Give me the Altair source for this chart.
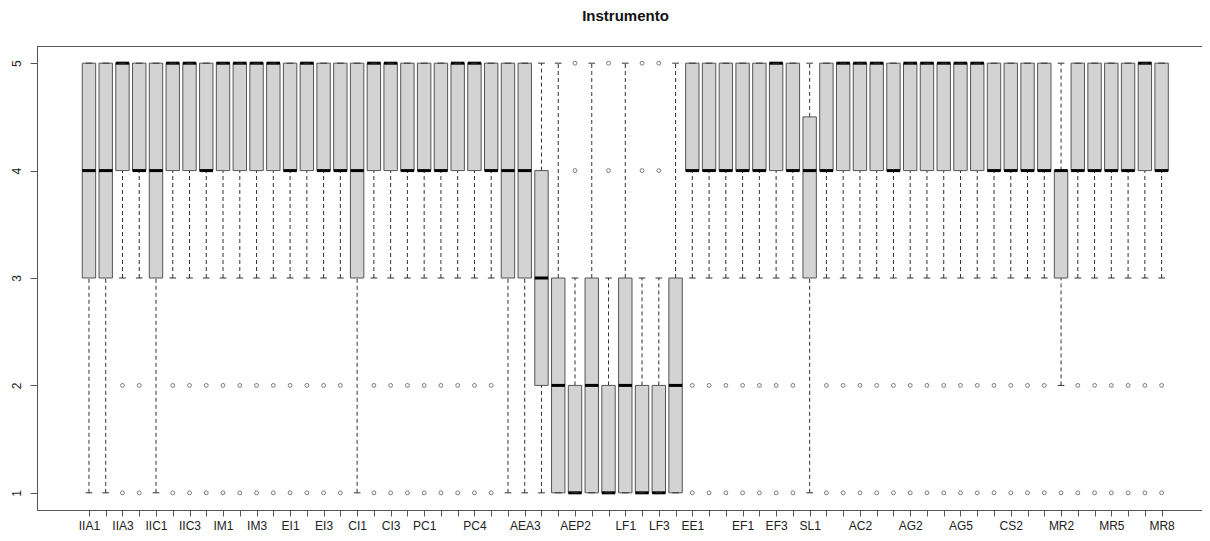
import json
import altair as alt
import pandas as pd

names = ["IIA1", "IIA2", "IIA3", "IIA4", "IIC1", "IIC2", "IIC3", "IIC4",
         "IM1", "IM2", "IM3", "IM4", "EI1", "EI2", "EI3", "EI4",
         "CI1", "CI2", "CI3", "CI4", "PC1", "PC2", "PC3", "PC4",
         "AEA1", "AEA2", "AEA3", "AEA4", "AEP1", "AEP2", "AEP3", "AEP4",
         "LF1", "LF2", "LF3", "LF4", "EE1", "EE2", "EE3",
         "EF1", "EF2", "EF3", "EF4", "SL1", "SL2", "AC1", "AC2", "AC3",
         "AG1", "AG2", "AG3", "AG4", "AG5", "AG6", "CS1", "CS2", "CS3",
         "MR1", "MR2", "MR3", "MR4", "MR5", "MR6", "MR7", "MR8"]

shown_labels = ["IIA1", "IIA3", "IIC1", "IIC3", "IM1", "IM3", "EI1", "EI3",
                "CI1", "CI3", "PC1", "PC4", "AEA3", "AEP2", "LF1", "LF3",
                "EE1", "EF1", "EF3", "SL1", "AC2", "AG2", "AG5", "CS2",
                "MR2", "MR5", "MR8"]

whisker_lo = [1, 1, 3, 3, 1, 3, 3, 3, 3, 3, 3, 3, 3, 3, 3, 3,
              1, 3, 3, 3, 3, 3, 3, 3, 3, 1, 1, 1, 1, 1, 1, 1, 1, 1, 1, 1,
              3, 3, 3, 3, 3, 3, 3, 1, 3, 3, 3, 3, 3, 3, 3, 3, 3, 3, 3, 3, 3, 3,
              2, 3, 3, 3, 3, 3, 3]
q1 = [3, 3, 4, 4, 3, 4, 4, 4, 4, 4, 4, 4, 4, 4, 4, 4,
      3, 4, 4, 4, 4, 4, 4, 4, 4, 3, 3, 2, 1, 1, 1, 1, 1, 1, 1, 1,
      4, 4, 4, 4, 4, 4, 4, 3, 4, 4, 4, 4, 4, 4, 4, 4, 4, 4, 4, 4, 4, 4,
      3, 4, 4, 4, 4, 4, 4]
median = [4, 4, 5, 4, 4, 5, 5, 4, 5, 5, 5, 5, 4, 5, 4, 4,
          4, 5, 5, 4, 4, 4, 5, 5, 4, 4, 4, 3, 2, 1, 2, 1, 2, 1, 1, 2,
          4, 4, 4, 4, 4, 5, 4, 4, 4, 5, 5, 5, 4, 5, 5, 5, 5, 5, 4, 4, 4, 4,
          4, 4, 4, 4, 4, 5, 4]
q3 = [5, 5, 5, 5, 5, 5, 5, 5, 5, 5, 5, 5, 5, 5, 5, 5,
      5, 5, 5, 5, 5, 5, 5, 5, 5, 5, 5, 4, 3, 2, 3, 2, 3, 2, 2, 3,
      5, 5, 5, 5, 5, 5, 5, 4.5, 5, 5, 5, 5, 5, 5, 5, 5, 5, 5, 5, 5, 5, 5,
      4, 5, 5, 5, 5, 5, 5]
whisker_hi = [5, 5, 5, 5, 5, 5, 5, 5, 5, 5, 5, 5, 5, 5, 5, 5,
              5, 5, 5, 5, 5, 5, 5, 5, 5, 5, 5, 5, 5, 3, 5, 3, 5, 3, 3, 5,
              5, 5, 5, 5, 5, 5, 5, 5, 5, 5, 5, 5, 5, 5, 5, 5, 5, 5, 5, 5, 5, 5,
              5, 5, 5, 5, 5, 5, 5]
outliers = [[], [], [2, 1], [2, 1], [], [2, 1], [2, 1], [2, 1],
            [2, 1], [2, 1], [2, 1], [2, 1], [2, 1], [2, 1], [2, 1], [2, 1],
            [], [2, 1], [2, 1], [2, 1], [2, 1], [2, 1], [2, 1], [2, 1],
            [2, 1], [], [], [], [], [4, 5], [], [4, 5],
            [], [4, 5], [4, 5], [], [2, 1], [2, 1], [2, 1],
            [2, 1], [2, 1], [2, 1], [2, 1], [], [2, 1], [2, 1], [2, 1], [2, 1],
            [2, 1], [2, 1], [2, 1], [2, 1], [2, 1], [2, 1], [2, 1], [2, 1], [2, 1],
            [2, 1], [1], [2, 1], [2, 1], [2, 1], [2, 1], [2, 1], [2, 1]]

df = pd.DataFrame({
    "idx": list(range(1, len(names) + 1)),
    "name": names,
    "lo": whisker_lo, "q1": q1, "med": median, "q3": q3, "hi": whisker_hi,
})
odf = pd.DataFrame([{"idx": i + 1, "value": v}
                    for i, vals in enumerate(outliers) for v in vals])

W, H = 1165, 464
FONT = "Liberation Sans"
LINE = "#555555"

label_arr = json.dumps([n if n in shown_labels else "" for n in names])

xscale = alt.Scale(domain=[-2.1, 67.41], nice=False, zero=False)
yscale = alt.Scale(domain=[0.84, 5.16], nice=False, zero=False)

xaxis = alt.Axis(values=list(range(1, len(names) + 1)),
                 labelExpr=f"{label_arr}[datum.value - 1]",
                 title=None, grid=False, tickSize=6, tickColor=LINE,
                 domainColor=LINE, labelFont=FONT, labelFontSize=12,
                 labelColor="#222222", labelPadding=4, labelOverlap=False,
                 labelFlush=False, labelAngle=0)
yaxis = alt.Axis(values=[1, 2, 3, 4, 5], title=None, grid=False, tickSize=7,
                 tickColor=LINE, domainColor=LINE, labelFont=FONT,
                 labelFontSize=12, labelColor="#222222", labelAngle=270,
                 labelAlign="center", labelBaseline="alphabetic",
                 labelPadding=10)

base = alt.Chart(df).transform_calculate(
    b0="datum.idx - 0.4", b1="datum.idx + 0.4",
    s0="datum.idx - 0.2", s1="datum.idx + 0.2")

whisk_up = base.mark_rule(color="#333333", strokeDash=[4, 3], strokeWidth=1).encode(
    x=alt.X("idx:Q", scale=xscale, axis=xaxis),
    y=alt.Y("q3:Q", scale=yscale, axis=yaxis), y2="hi:Q")
whisk_dn = base.mark_rule(color="#333333", strokeDash=[4, 3], strokeWidth=1).encode(
    x=alt.X("idx:Q", scale=xscale, axis=xaxis),
    y=alt.Y("lo:Q", scale=yscale, axis=yaxis), y2="q1:Q")
staple_hi = base.mark_rule(color="#333333", strokeWidth=1).encode(
    x=alt.X("s0:Q", scale=xscale, axis=xaxis), x2="s1:Q",
    y=alt.Y("hi:Q", scale=yscale, axis=yaxis))
staple_lo = base.mark_rule(color="#333333", strokeWidth=1).encode(
    x=alt.X("s0:Q", scale=xscale, axis=xaxis), x2="s1:Q",
    y=alt.Y("lo:Q", scale=yscale, axis=yaxis))
boxes = base.mark_rect(fill="#D3D3D3", stroke=LINE, strokeWidth=1).encode(
    x=alt.X("b0:Q", scale=xscale, axis=xaxis), x2="b1:Q",
    y=alt.Y("q1:Q", scale=yscale, axis=yaxis), y2="q3:Q")
medians = base.mark_rule(color="#000000", strokeWidth=3).encode(
    x=alt.X("b0:Q", scale=xscale, axis=xaxis), x2="b1:Q",
    y=alt.Y("med:Q", scale=yscale, axis=yaxis))
points = alt.Chart(odf).mark_point(shape="circle", filled=False, size=15,
                                   color="#444444", strokeWidth=1).encode(
    x=alt.X("idx:Q", scale=xscale, axis=xaxis),
    y=alt.Y("value:Q", scale=yscale, axis=yaxis))
top_frame = alt.Chart(df).mark_rule(color=LINE, strokeWidth=1).encode(
    x=alt.value(0), x2=alt.value(W), y=alt.value(0.5))

chart = alt.layer(
    whisk_up, whisk_dn, boxes, medians, staple_hi, staple_lo, points, top_frame
).properties(
    width=W, height=H,
    title=alt.TitleParams("Instrumento", font=FONT, fontSize=15,
                          fontWeight="bold", anchor="middle", color="#111111",
                          baseline="alphabetic", offset=10, dx=6),
    autosize=alt.AutoSizeParams(type="none"),
    padding={"left": 29, "top": 38, "right": 0, "bottom": 25},
).configure_view(stroke=None).configure(background="white")

chart.save("out.html", embed_options={"renderer": "svg", "actions": False})
